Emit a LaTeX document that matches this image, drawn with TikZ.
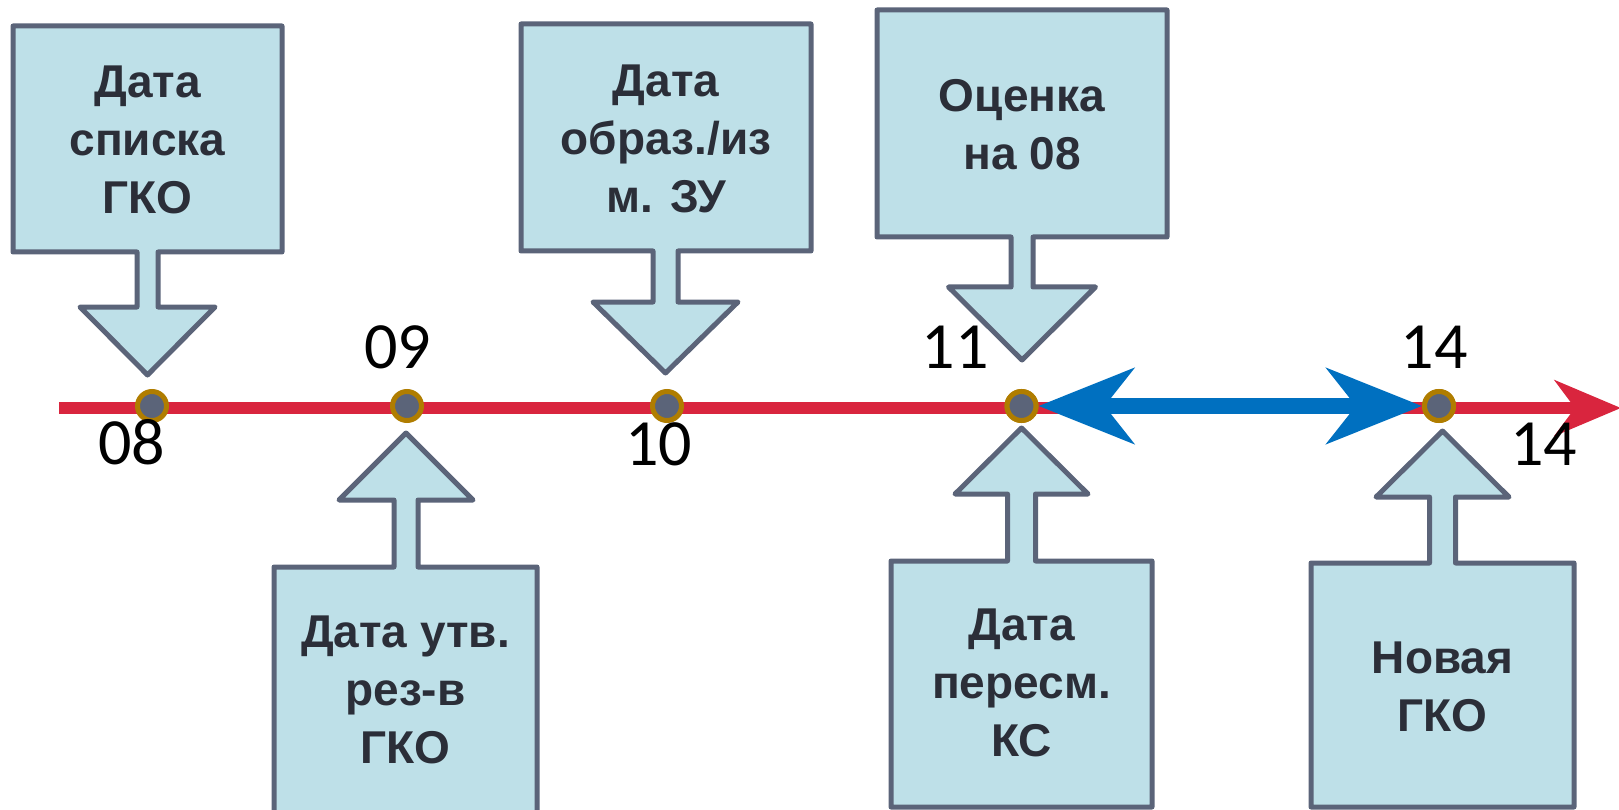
\documentclass[tikz,border=0pt]{standalone}
\usepackage{fontspec}
\setmainfont{Liberation Sans}
\newfontfamily\numfont{Carlito}
\usetikzlibrary{arrows.meta}

\definecolor{axisred}{HTML}{D9253E}
\definecolor{spanblue}{HTML}{0070C0}
\definecolor{calloutfill}{HTML}{BEE0E8}
\definecolor{slate}{HTML}{5B6479}
\definecolor{dotgold}{HTML}{B07D00}
\definecolor{labeltext}{HTML}{2B2E38}

% callout: box (left, right, far edge, near edge) with an arrow pointing to the axis
% #1 left, #2 right, #3 far edge y, #4 near edge y, #5 stem x, #6 stem half width,
% #7 head half width, #8 head base y, #9 tip y
\newcommand\calloutshape[9]{%
  \draw[calloutbox] (#1,#3) -- (#2,#3) -- (#2,#4) -- ({#5+#6},#4) -- ({#5+#6},#8)
    -- ({#5+#7},#8) -- (#5,#9) -- ({#5-#7},#8) -- ({#5-#6},#8) -- ({#5-#6},#4)
    -- (#1,#4) -- cycle;}

\tikzset{
  calloutbox/.style={draw=slate, fill=calloutfill, line width=5pt, line join=round},
  callouttext/.style={text=labeltext, align=center, inner sep=0pt,
    font=\fontsize{46}{58}\selectfont\bfseries},
  yearlabel/.style={anchor=base, inner sep=0pt, font=\numfont\fontsize{66}{66}\selectfont},
  datedot/.style={circle, draw=dotgold, fill=slate, line width=5pt,
    minimum size=29pt, inner sep=0pt},
}

\begin{document}
\begin{tikzpicture}[x=1pt,y=-1pt]
\useasboundingbox (0,0) rectangle (1619,810);
\clip (0,0) rectangle (1619,810);

% time axis
\coordinate (axisstart) at (59,408);
\coordinate (axisend) at (1621,408);
\draw[axisred, line width=12pt,
  -{Stealth[length=66pt, width=55pt, inset=20pt]}] (axisstart) -- (axisend);

% callouts above the axis
\calloutshape{13}{282}{26}{252}{147.5}{10.5}{67.5}{307}{375}
\calloutshape{521}{811}{24}{251}{665.5}{12.5}{72.5}{302}{373}
\calloutshape{877}{1167}{10}{237}{1022}{11}{73.5}{287}{360}
% callouts below the axis
\calloutshape{274}{537}{840}{567}{406}{12}{67}{500}{433}
\calloutshape{891}{1152}{807}{561}{1021.5}{14}{66.5}{494}{428}
\calloutshape{1311}{1574}{807}{563}{1442.5}{13}{66.5}{497}{431}

\node[callouttext] (t1) at (147.5,140) {Дата\\списка\\ГКО};
\node[callouttext] (t2) at (666,138.5) {Дата\\образ./из\\м. ЗУ};
\node[callouttext] (t3) at (1022,124.5) {Оценка\\на 08};
\node[callouttext] (t4) at (405.5,690) {Дата утв.\\рез-в\\ГКО};
\node[callouttext] (t5) at (1021.5,682.5) {Дата\\пересм.\\КС};
\node[callouttext] (t6) at (1442.5,686.5) {Новая\\ГКО};

% date points
\node[datedot] (d08) at (152,406) {};
\node[datedot] (d09) at (407,406) {};
\node[datedot] (d10) at (667,406) {};
\node[datedot] (d11) at (1021.5,406) {};
\node[datedot] (d14) at (1439,406) {};

% span between re-evaluation and new valuation
\draw[spanblue, line width=16pt,
  {Stealth[length=95pt, width=75pt, inset=29pt]}-{Stealth[length=95pt, width=75pt, inset=29pt]}]
  (d11) -- (d14);
\node[datedot] at (d11) {};
\node[datedot] at (d14) {};

% year labels
\node[yearlabel] (y08) at (131.5,464) {08};
\node[yearlabel] (y09) at (397.5,368) {09};
\node[yearlabel] (y10) at (658.5,465) {10};
\node[yearlabel] (y11) at (955,368) {11};
\node[yearlabel] (y14a) at (1434,368) {14};
\node[yearlabel] (y14b) at (1543.5,465) {14};
\end{tikzpicture}
\end{document}
